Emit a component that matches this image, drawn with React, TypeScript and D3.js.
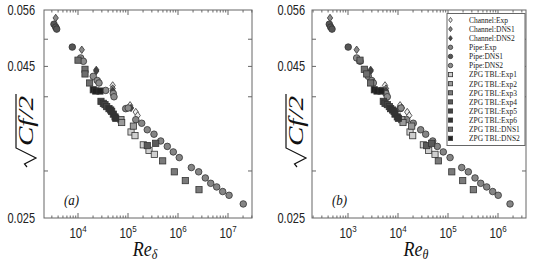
import * as React from 'react';
import * as d3 from 'd3';

// each point: [Re_delta, Re_theta, sqrt(Cf/2)]
const channelExp = [[4.94e4, 5500, 0.0418], [1.10e5, 1.10e4, 0.0387], [1.43e5, 1.53e4, 0.0377], [1.56e5, 1.68e4, 0.0372]];
const channelDns1 = [[3.58e3, 437, 0.0543], [1.19e4, 1490, 0.0480], [2.32e4, 2840, 0.0444], [4.94e4, 5750, 0.0413]];
const channelDns2 = [[2.32e4, 2840, 0.0442], [4.94e4, 5750, 0.0409], [1.15e5, 1.19e4, 0.0383]];
const pipeExp = [
  [8.99e4, 1.10e4, 0.0382], [1.43e5, 1.49e4, 0.0366], [1.88e5, 2.02e4, 0.0361], [2.43e5, 2.84e4, 0.0352],
  [3.31e5, 3.58e4, 0.0346], [4.51e5, 4.94e4, 0.0337], [6.11e5, 6.11e4, 0.0330], [8.05e5, 8.05e4, 0.0323],
  [1.06e6, 1.10e5, 0.0316], [1.85e6, 1.88e5, 0.0304], [2.59e6, 2.55e5, 0.0299], [3.52e6, 3.47e5, 0.0292],
  [4.51e6, 4.51e5, 0.0286], [5.94e6, 5.94e5, 0.0282], [7.83e6, 7.83e5, 0.0277], [1.05e7, 1.01e6, 0.0273],
  [2.02e7, 1.74e6, 0.0264]];
const pipeDns1 = [[3.31e3, 423, 0.0530], [3.58e3, 451, 0.0524], [3.75e3, 479, 0.0520], [7.69e3, 1010, 0.0485]];
const pipeDns2 = [
  [1.13e4, 1490, 0.0465], [1.28e4, 1740, 0.0459], [2.02e4, 2550, 0.0433], [2.43e4, 2980, 0.0426],
  [2.63e4, 3210, 0.0422], [3.58e4, 4570, 0.0410], [5.08e4, 5750, 0.0405], [5.25e4, 6110, 0.0400],
  [1.01e5, 1.15e4, 0.0383]];
const tblExp1 = [[1.15e5, 1.74e4, 0.0349], [1.38e5, 1.97e4, 0.0344], [2.02e5, 3.21e4, 0.0332], [2.63e5, 4.11e4, 0.0325], [3.36e5, 5.50e4, 0.0320]];
const tblExp2 = [[7.24e4, 1.19e4, 0.0366], [7.48e4, 1.26e4, 0.0362], [1.28e5, 1.88e4, 0.0357]];
const tblExp3 = [[4.94e5, 6.40e4, 0.0312], [8.43e5, 1.19e5, 0.0299], [1.40e6, 1.97e5, 0.0289], [2.63e6, 3.21e5, 0.0279]];
const tblExp4 = [[2.43e5, 3.75e4, 0.0331], [3.58e5, 4.72e4, 0.0334]];
const tblExp5 = [[2.88e4, 5080, 0.0393], [3.21e4, 5500, 0.0390], [3.47e4, 6110, 0.0388], [3.75e4, 6700, 0.0385]];
const tblExp6 = [[4.17e4, 7140, 0.0382], [4.51e4, 7830, 0.0380], [4.72e4, 8320, 0.0378], [5.08e4, 8710, 0.0374], [5.50e4, 9680, 0.0370], [5.68e4, 1.02e4, 0.0368]];
const tblDns1 = [[1.00e4, 1740, 0.0461], [1.38e4, 2120, 0.0445], [1.38e4, 2370, 0.0437], [1.71e4, 2840, 0.0422]];
const tblDns2 = [[2.02e4, 3360, 0.0411], [2.26e4, 3800, 0.0409], [2.75e4, 4570, 0.0409]];

const seriesNames = ['Channel:Exp', 'Channel:DNS1', 'Channel:DNS2', 'Pipe:Exp', 'Pipe:DNS1', 'Pipe:DNS2',
  'ZPG TBL:Exp1', 'ZPG TBL:Exp2', 'ZPG TBL:Exp3', 'ZPG TBL:Exp4', 'ZPG TBL:Exp5', 'ZPG TBL:Exp6', 'ZPG TBL:DNS1', 'ZPG TBL:DNS2'];
const seriesData = [channelExp, channelDns1, channelDns2, pipeExp, pipeDns1, pipeDns2,
  tblExp1, tblExp2, tblExp3, tblExp4, tblExp5, tblExp6, tblDns1, tblDns2];
const shapes = ['d', 'd', 'd', 'c', 'c', 'c', 's', 's', 's', 's', 's', 's', 's', 's'];
const fills = ['#eeeeee', '#8a8a8a', '#444', '#858585', '#555', '#8c8c8c',
  '#cfcfcf', '#9a9a9a', '#7a7a7a', '#5a5a5a', '#444', '#333', '#6e6e6e', '#222'];

const yTickLabels = [0.056, 0.045, 0.025];
const yMinorTicks = [0.05, 0.045, 0.04, 0.03];

const SERIF = '"Liberation Serif", "DejaVu Serif", serif';
const SANS = '"Liberation Sans", Arial, sans-serif';

const Marker = ({ shape, x, y, fill, size }: any) => {
  if (shape === 'c') return <circle cx={x} cy={y} r={size * 0.53} fill={fill} stroke="#333" strokeWidth={0.8} />;
  if (shape === 's') return <rect x={x - size / 2} y={y - size / 2} width={size} height={size} fill={fill} stroke="#333" strokeWidth={0.8} />;
  const w = size * 0.43, h = size * 0.6;
  return <path d={`M${x},${y - h}L${x + w},${y}L${x},${y + h}L${x - w},${y}Z`} fill={fill} stroke="#333" strokeWidth={0.8} />;
};

const Panel = ({ x0, x1, lo, hi, which, sub, label, legend, tickDx, labelX }: any) => {
  const y0 = 10, y1 = 218;
  const x = d3.scaleLog().domain([10 ** lo, 10 ** hi]).range([x0, x1]);
  const y = d3.scaleLog().domain([0.025, 0.056]).range([y1, y0]);
  const major: number[] = [];
  const minor: number[] = [];
  for (let e = Math.floor(lo); e <= Math.ceil(hi); e++) {
    if (e >= lo && e <= hi) major.push(e);
    for (let k = 2; k <= 9; k++) {
      const v = k * 10 ** e;
      if (v >= 10 ** lo && v <= 10 ** hi) minor.push(v);
    }
  }
  const frame = '#666';
  return (
    <g>
      <rect x={x0} y={y0} width={x1 - x0} height={y1 - y0} fill="none" stroke={frame} strokeWidth={1} />
      {major.map(e => (
        <g key={'M' + e}>
          <line x1={x(10 ** e)} x2={x(10 ** e)} y1={y1} y2={y1 - 5} stroke={frame} />
          <line x1={x(10 ** e)} x2={x(10 ** e)} y1={y0} y2={y0 + 5} stroke={frame} />
          <text transform={`translate(${x(10 ** e)},238) scale(1,1.2)`} fontFamily={SANS} fontSize={11.5} textAnchor="middle" fill="#222">
            10<tspan fontSize={8} dy={-5}>{e}</tspan>
          </text>
        </g>
      ))}
      {minor.map(v => (
        <g key={'m' + v}>
          <line x1={x(v)} x2={x(v)} y1={y1} y2={y1 - 2.5} stroke={frame} />
          <line x1={x(v)} x2={x(v)} y1={y0} y2={y0 + 2.5} stroke={frame} />
        </g>
      ))}
      {yMinorTicks.map(v => (
        <g key={'y' + v}>
          <line x1={x0} x2={x0 + 4} y1={y(v)} y2={y(v)} stroke={frame} />
          <line x1={x1} x2={x1 - 4} y1={y(v)} y2={y(v)} stroke={frame} />
        </g>
      ))}
      {yTickLabels.map(v => (
        <text key={'yl' + v} transform={`translate(${x0 - tickDx},${y(v) + 5}) scale(1,1.25)`} fontFamily={SANS} fontSize={11} textAnchor="end" fill="#222">
          {v.toFixed(3)}
        </text>
      ))}
      <g transform={`translate(${labelX},167) rotate(-90)`}>
        <path d="M0,-6L3,-8.5L9,3L19,-17L73,-17" fill="none" stroke="#111" strokeWidth={1.2} />
        <text x={21} y={0} fontFamily={SERIF} fontStyle="italic" fontSize={20} textLength={50} lengthAdjust="spacingAndGlyphs" fill="#111">Cf/2</text>
      </g>
      <text transform={`translate(${(x0 + x1) / 2 - 3},256) scale(1,1.15)`} fontFamily={SERIF} fontStyle="italic" fontSize={18} textAnchor="middle" fill="#111">
        Re<tspan fontSize={12} dy={3}>{sub}</tspan>
      </text>
      <text transform={`translate(${x0 + 20},205) scale(1,1.15)`} fontFamily={SERIF} fontStyle="italic" fontSize={13} fill="#111">({label})</text>
      {seriesData.map((pts, i) => (
        <g key={'s' + i}>
          {pts.map((p, j) => (
            <Marker key={j} shape={shapes[i]} x={x(p[which])} y={y(p[2])} fill={fills[i]} size={6.2} />
          ))}
        </g>
      ))}
      {legend && (
        <g>
          <rect x={447} y={13.5} width={78} height={132} fill="white" stroke={frame} strokeWidth={1} />
          {seriesNames.map((n, i) => (
            <g key={n}>
              <Marker shape={shapes[i]} x={450.5} y={20 + i * 9.1} fill={fills[i]} size={4.2} />
              <text transform={`translate(469,${22.8 + i * 9.1}) scale(1,1.2)`} fontFamily={SERIF} fontSize={7.5} fill="#222">{n}</text>
            </g>
          ))}
        </g>
      )}
    </g>
  );
};

export default function App() {
  return (
    <svg width={537} height={264} style={{ position: 'absolute', left: 0, top: 0, background: 'white' }}>
      <Panel x0={44} x1={252} lo={3.32} hi={7.48} which={0} sub="δ" label="a" legend={false} tickDx={9} labelX={33} />
      <Panel x0={312} x1={526} lo={2.28} hi={6.56} which={1} sub="θ" label="b" legend={true} tickDx={7} labelX={303} />
    </svg>
  );
}
